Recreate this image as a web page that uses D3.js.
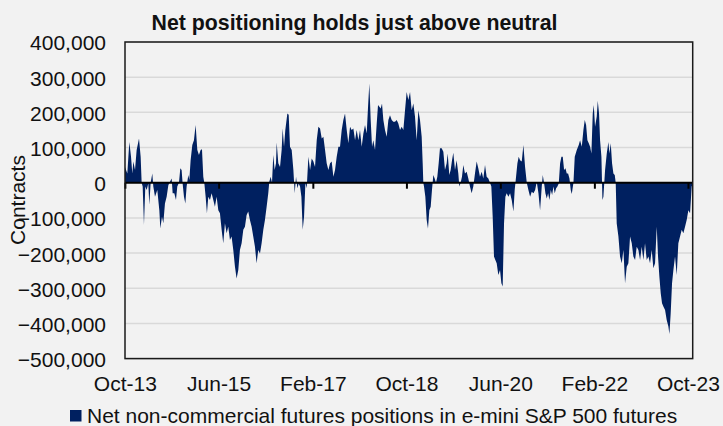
<!DOCTYPE html>
<html>
<head>
<meta charset="utf-8">
<script src="https://cdn.jsdelivr.net/npm/d3@7"></script>
<style>
  body { margin: 0; background: #f2f2f2; }
  text { font-family: "Liberation Sans", Arial, sans-serif; fill: #111; }
</style>
</head>
<body>
<div id="chart"></div>
<script>
const width = 723;
const height = 426;
const margin = { top: 42, right: 30.3, bottom: 67.4, left: 125 };

// weekly-ish readings, dates as decimal years, values in thousands of contracts
const dates = [
  2013.750, 2013.791, 2013.827, 2013.857, 2013.880, 2013.898, 2013.928, 2013.957, 2013.999, 2014.028,
  2014.046, 2014.064, 2014.087, 2014.111, 2014.135, 2014.164, 2014.182, 2014.206, 2014.235, 2014.253,
  2014.283, 2014.324, 2014.360, 2014.378, 2014.407, 2014.431, 2014.460, 2014.490, 2014.520, 2014.549,
  2014.579, 2014.597, 2014.626, 2014.656, 2014.679, 2014.709, 2014.733, 2014.756, 2014.774, 2014.798,
  2014.822, 2014.845, 2014.875, 2014.893, 2014.916, 2014.946, 2014.975, 2015.005, 2015.035, 2015.064,
  2015.094, 2015.118, 2015.141, 2015.159, 2015.183, 2015.206, 2015.230, 2015.260, 2015.289, 2015.319,
  2015.348, 2015.378, 2015.408, 2015.437, 2015.467, 2015.496, 2015.526, 2015.556, 2015.585, 2015.615,
  2015.644, 2015.674, 2015.704, 2015.733, 2015.763, 2015.792, 2015.822, 2015.852, 2015.881, 2015.911,
  2015.940, 2015.970, 2016.000, 2016.029, 2016.059, 2016.088, 2016.118, 2016.148,
  2016.177, 2016.207, 2016.236, 2016.266, 2016.295, 2016.313, 2016.337, 2016.361, 2016.384, 2016.408,
  2016.432, 2016.444, 2016.473, 2016.503, 2016.532, 2016.550, 2016.574, 2016.597, 2016.633, 2016.657,
  2016.680, 2016.710, 2016.740, 2016.763, 2016.787, 2016.811, 2016.834, 2016.858, 2016.882, 2016.905,
  2016.929, 2016.953, 2016.976, 2017.006, 2017.036, 2017.065, 2017.095, 2017.124, 2017.154, 2017.183,
  2017.213, 2017.243, 2017.272, 2017.302, 2017.331, 2017.361, 2017.391, 2017.420, 2017.450, 2017.479,
  2017.509, 2017.539, 2017.568, 2017.598, 2017.627, 2017.657, 2017.687, 2017.716, 2017.746, 2017.775,
  2017.805, 2017.835, 2017.864, 2017.894, 2017.923, 2017.953, 2017.983, 2018.012, 2018.042, 2018.066,
  2018.089, 2018.113, 2018.137, 2018.160, 2018.190, 2018.220, 2018.243, 2018.267, 2018.291, 2018.314,
  2018.338, 2018.367, 2018.397, 2018.427, 2018.456, 2018.486, 2018.515, 2018.545, 2018.575, 2018.604,
  2018.634,
  2018.664, 2018.693, 2018.723, 2018.752, 2018.782, 2018.812, 2018.841, 2018.871, 2018.900, 2018.930,
  2018.960, 2018.989, 2019.019, 2019.037, 2019.048, 2019.060, 2019.084, 2019.108, 2019.131, 2019.155,
  2019.179, 2019.202, 2019.226, 2019.250, 2019.273, 2019.297, 2019.321, 2019.344, 2019.374, 2019.404,
  2019.433, 2019.463, 2019.481, 2019.510, 2019.534, 2019.558, 2019.581, 2019.611, 2019.640, 2019.670,
  2019.688, 2019.711, 2019.735, 2019.759, 2019.788, 2019.818, 2019.848, 2019.877, 2019.907, 2019.936,
  2019.966, 2019.996, 2020.025, 2020.055, 2020.085, 2020.114, 2020.144, 2020.173, 2020.203, 2020.232,
  2020.256, 2020.280, 2020.303, 2020.327, 2020.351, 2020.380, 2020.410, 2020.434, 2020.457, 2020.481,
  2020.505, 2020.528, 2020.558, 2020.588, 2020.617, 2020.647, 2020.670, 2020.694, 2020.718, 2020.741,
  2020.765, 2020.795, 2020.824, 2020.854, 2020.884, 2020.913, 2020.943, 2020.972, 2021.002, 2021.032,
  2021.061, 2021.091, 2021.120,
  2021.150, 2021.168, 2021.192, 2021.215, 2021.239, 2021.263, 2021.286, 2021.310, 2021.334, 2021.357,
  2021.381, 2021.405, 2021.428, 2021.452, 2021.476, 2021.499, 2021.523, 2021.547, 2021.571, 2021.594,
  2021.618, 2021.642, 2021.665, 2021.683, 2021.713, 2021.736, 2021.772, 2021.807, 2021.831, 2021.861,
  2021.890, 2021.914, 2021.938, 2021.961, 2021.985, 2022.009, 2022.032, 2022.056, 2022.074, 2022.097,
  2022.127, 2022.145, 2022.168, 2022.186, 2022.210, 2022.228, 2022.245, 2022.275, 2022.305, 2022.334,
  2022.352, 2022.376, 2022.399, 2022.423, 2022.447, 2022.464, 2022.482, 2022.512, 2022.541, 2022.571,
  2022.601, 2022.630, 2022.660, 2022.689, 2022.719, 2022.749, 2022.778, 2022.808, 2022.837, 2022.867,
  2022.897, 2022.926, 2022.956, 2022.985, 2023.015, 2023.045, 2023.074, 2023.104, 2023.133, 2023.163,
  2023.193, 2023.216, 2023.240, 2023.264, 2023.287, 2023.311, 2023.341, 2023.370, 2023.400, 2023.418,
  2023.441, 2023.465, 2023.489, 2023.518, 2023.548, 2023.577, 2023.607, 2023.637, 2023.666, 2023.696,
  2023.725, 2023.755, 2023.785, 2023.814, 2023.832
];

const netPositions = [
  45, 26, 116, 74, 26, 60, 36, 93, 126, 74,
  0, -11, -120, -11, -21, -2, -63, 0, 26, -11,
  -40, -21, -78, -130, -97, -115, -59, -40, -7, 3,
  12, -30, -30, -49, -11, 0, 41, 36, -2, -40,
  -59, -11, 22, 8, 64, 107, 121, 164, 93, 79,
  93, 95, 17, 0, -40, -87, -40, -49, -30, -49,
  -68, -40, -78, -87, -134, -172, -115, -144, -125, -163,
  -153, -191, -239, -272, -248, -191, -172, -134, -125, -92,
  -82, -106, -125, -153, -182, -229, -191, -201,
  -172, -134, -106, -68, -30, 3, 17, 0, 79, 36,
  55, 114, 55, 45, 93, 154, 102, 150, 197, 193,
  102, 93, 36, -30, 17, -16, -2, -11, -40, -134,
  -97, 0, -16, 74, 36, 69, 60, 45, 121, 159,
  154, 126, 131, 93, 55, 36, 55, 60, 17, 36,
  74, 102, 102, 150, 178, 197, 150, 112, 159, 150,
  154, 121, 150, 121, 150, 102, 140, 164, 140, 216,
  282, 178, 102, 121, 93, 168, 221, 216, 211, 225,
  178, 150, 131, 178, 192, 178, 173, 173, 178, 168,
  150,
  159, 150, 206, 258, 235, 258, 206, 225, 188, 121,
  206, 178, 131, 55, 0, -11, -40, -106, -130, -78,
  -68, -21, 22, 12, 0, 17, 55, 98, 98, 88,
  36, 55, 83, 22, 36, 64, 85, 36, 64, 26,
  -11, 0, 17, 50, 26, 31, 12, -11, -30, -11,
  26, 60, 41, 17, 31, 12, 50, 17, 12, 0,
  -11, -97, -210, -220, -229, -262, -248, -286, -295, -115,
  -40, -30, -40, -30, -49, -82, -21, 17, 55, 74,
  64, 60, 107, 45, 0, -21, -40, -26, -30, -21,
  3, -30, -78,
  -11, 22, -2, -30, -45, -30, -49, -21, -35, -11,
  -30, -16, -11, -2, 55, 74, 74, 36, 41, 26,
  26, 12, -21, -32, 0, 74, 93, 107, 121, 102,
  150, 178, 164, 121, 112, 102, 83, 197, 221, 159,
  188, 233, 197, 121, 74, -49, -40, 36, 83, 116,
  83, 112, 55, 26, 22, 0, -116, -153, -210, -229,
  -191, -286, -239, -229, -153, -172, -210, -220, -182, -191,
  -220, -182, -220, -172, -220, -210, -229, -191, -243, -229,
  -125, -210, -267, -314, -343, -352, -362, -390, -409, -430,
  -371, -286, -248, -210, -262, -172, -153, -134, -144, -125,
  -106, -78, -87, -11, -5
];

const xTickDates = ["2013-10-01", "2015-06-01", "2017-02-01", "2018-10-01", "2020-06-01", "2022-02-01", "2023-10-01"];
const yTicks = [400000, 300000, 200000, 100000, 0, -100000, -200000, -300000, -400000, -500000];

const title = "Net positioning holds just above neutral";
const yLabel = "Contracts";
const seriesName = "Net non-commercial futures positions in e-mini S&P 500 futures";
const navy = "#002060";
const fontSize = 21;

// decimal year -> Date
function fromDecimal(y) {
  const yr = Math.floor(y);
  const start = new Date(yr, 0, 1);
  const end = new Date(yr + 1, 0, 1);
  return new Date(+start + (y - yr) * (end - start));
}

const data = dates.map((d, i) => ({ date: fromDecimal(d), value: netPositions[i] * 1000 }));

const x = d3.scaleTime()
  .domain(d3.extent(data, d => d.date))
  .range([margin.left, width - margin.right]);

const y = d3.scaleLinear()
  .domain([-500000, 400000])
  .range([height - margin.bottom, margin.top]);

const svg = d3.select("#chart")
  .append("svg")
  .attr("width", width)
  .attr("height", height)
  .style("display", "block")
  .style("background", "#f2f2f2");

// gridlines
svg.append("g")
  .selectAll("line")
  .data(yTicks.filter(v => v !== 0))
  .join("line")
  .attr("x1", margin.left)
  .attr("x2", width - margin.right)
  .attr("y1", d => y(d))
  .attr("y2", d => y(d))
  .attr("stroke", "#d9d9d9")
  .attr("stroke-width", 1.5);

// area
const area = d3.area()
  .x(d => x(d.date))
  .y0(y(0))
  .y1(d => y(d.value));

svg.append("path")
  .datum(data)
  .attr("fill", navy)
  .attr("d", area);

// zero line with date ticks
const parse = d3.timeParse("%Y-%m-%d");
const tickDates = xTickDates.map(parse);

const zeroAxis = svg.append("g")
  .attr("transform", `translate(0,${y(0)})`)
  .call(d3.axisBottom(x).tickValues(tickDates).tickSize(6).tickFormat(""));
zeroAxis.select(".domain").remove();
zeroAxis.selectAll(".tick line").attr("stroke", "#000").attr("stroke-width", 2);

svg.append("line")
  .attr("x1", margin.left)
  .attr("x2", width - margin.right)
  .attr("y1", y(0))
  .attr("y2", y(0))
  .attr("stroke", "#000")
  .attr("stroke-width", 2);

// plot border
svg.append("rect")
  .attr("x", margin.left)
  .attr("y", margin.top)
  .attr("width", width - margin.left - margin.right)
  .attr("height", height - margin.top - margin.bottom)
  .attr("fill", "none")
  .attr("stroke", "#1a1a1a")
  .attr("stroke-width", 1.5);

// y axis labels
const yAxis = svg.append("g")
  .attr("transform", `translate(${margin.left},0)`)
  .call(d3.axisLeft(y).tickValues(yTicks).tickSize(0).tickPadding(19).tickFormat(d3.format(",")));
yAxis.select(".domain").remove();
yAxis.selectAll("text")
  .attr("font-size", fontSize)
  .attr("font-family", "Liberation Sans, Arial, sans-serif")
  .attr("fill", "#111")
  .attr("dy", "0.38em");

// x axis labels along the bottom
const xAxis = svg.append("g")
  .attr("transform", `translate(0,${height - margin.bottom})`)
  .call(d3.axisBottom(x).tickValues(tickDates).tickSize(0).tickPadding(17).tickFormat(d3.timeFormat("%b-%y")));
xAxis.select(".domain").remove();
xAxis.selectAll("text")
  .attr("font-size", fontSize)
  .attr("font-family", "Liberation Sans, Arial, sans-serif")
  .attr("fill", "#111");

// title
svg.append("text")
  .attr("x", 354.5)
  .attr("y", 30)
  .attr("text-anchor", "middle")
  .attr("font-size", 21.3)
  .attr("font-weight", "bold")
  .text(title);

// y label
svg.append("text")
  .attr("transform", "translate(25,200) rotate(-90)")
  .attr("text-anchor", "middle")
  .attr("font-size", fontSize)
  .text(yLabel);

// legend
const legend = svg.append("g");
legend.append("rect")
  .attr("x", 70)
  .attr("y", 410)
  .attr("width", 11.5)
  .attr("height", 11.5)
  .attr("fill", navy);
legend.append("text")
  .attr("x", 87)
  .attr("y", 422.5)
  .attr("font-size", fontSize)
  .text(seriesName);
</script>
</body>
</html>
